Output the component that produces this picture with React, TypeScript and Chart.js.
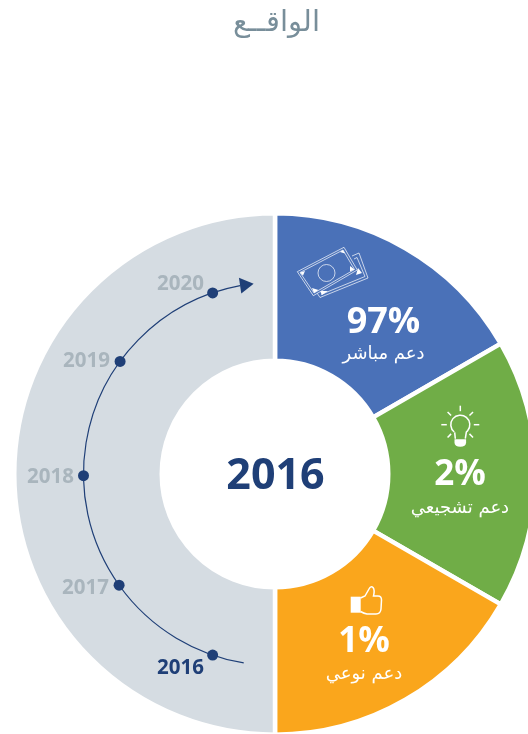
import React, { useEffect, useRef } from "react";
import { Chart, registerables } from "chart.js";

Chart.register(...registerables);

const titleText = "الواقــع";
const centerYear = "2016";
const sliceLabels = ["دعم مباشر", "دعم تشجيعي", "دعم نوعي", ""];
const sliceSizes = [60, 60, 60, 180];
const sharePercents = ["97%", "2%", "1%", ""];
const sliceColors = ["#4a71b8", "#70ad47", "#faa61c", "#d5dce2"];
const timelineYears = ["2016", "2017", "2018", "2019", "2020"];
const timelineAngles = [-71, -35.5, -0.5, 36, 71];

const NAVY = "#1f3f77";
const MUTED = "#a9b5bd";
const ARABIC = "'DejaVu Sans', sans-serif";
const LATIN = "'Open Sans', sans-serif";

const yearLabelAnchors = [
  [204, 674],
  [109, 594],
  [74, 483],
  [110, 367],
  [204, 290],
];
const shareAnchors = [
  [383.5, 333, 359],
  [460, 485, 513],
  [364, 652, 679],
];

function polygon(ctx: CanvasRenderingContext2D, pts: number[][]) {
  ctx.beginPath();
  pts.forEach(([x, y], i) => (i ? ctx.lineTo(x, y) : ctx.moveTo(x, y)));
  ctx.closePath();
}

function drawMoney(ctx: CanvasRenderingContext2D) {
  ctx.save();
  ctx.strokeStyle = "#fff";
  ctx.fillStyle = "#fff";
  ctx.lineWidth = 0.7;
  // rear note
  ctx.beginPath();
  ctx.moveTo(352, 256);
  ctx.lineTo(359, 253);
  ctx.lineTo(368, 278);
  ctx.lineTo(320, 297.5);
  ctx.lineTo(317, 293);
  ctx.stroke();
  ctx.beginPath();
  ctx.moveTo(354, 259);
  ctx.lineTo(357, 257.5);
  ctx.lineTo(365, 276.5);
  ctx.lineTo(321, 294.5);
  ctx.stroke();
  polygon(ctx, [[362, 273], [358, 268], [356, 275]]);
  ctx.fill();
  polygon(ctx, [[320, 291], [328, 291], [322, 295]]);
  ctx.fill();
  // front note
  ctx.fillStyle = "#4a71b8";
  polygon(ctx, [[297.3, 271.7], [344, 247.3], [357.3, 270], [313.3, 295.7]]);
  ctx.fill();
  ctx.stroke();
  polygon(ctx, [[300, 272.5], [343, 250], [354.5, 269.5], [314, 293]]);
  ctx.stroke();
  ctx.fillStyle = "#fff";
  polygon(ctx, [[300, 272.5], [305, 271], [303, 275.5]]);
  ctx.fill();
  polygon(ctx, [[343, 250], [340, 252], [345, 253.5]]);
  ctx.fill();
  polygon(ctx, [[354.5, 269.5], [350, 266], [350, 271.5]]);
  ctx.fill();
  polygon(ctx, [[314, 293], [312, 288], [318.5, 290]]);
  ctx.fill();
  ctx.beginPath();
  ctx.arc(326.5, 273, 8.5, 0, Math.PI * 2);
  ctx.stroke();
  ctx.restore();
}

function drawBulb(ctx: CanvasRenderingContext2D) {
  const cx = 460.3;
  const cy = 424.7;
  ctx.save();
  ctx.strokeStyle = "#fff";
  ctx.fillStyle = "#fff";
  ctx.lineWidth = 1.5;
  [0, 45, 90, 135, 225, 270, 315].forEach((deg) => {
    const a = (deg * Math.PI) / 180;
    const r0 = deg % 90 ? 13 : 13.5;
    const r1 = deg % 90 ? 18 : 19;
    ctx.beginPath();
    ctx.moveTo(cx + Math.sin(a) * r0, cy - Math.cos(a) * r0);
    ctx.lineTo(cx + Math.sin(a) * r1, cy - Math.cos(a) * r1);
    ctx.stroke();
  });
  ctx.beginPath();
  ctx.arc(cx, cy, 9.5, Math.PI * 0.72, Math.PI * 0.28);
  ctx.lineTo(cx + 5, cy + 14);
  ctx.moveTo(cx - 5, cy + 14);
  ctx.lineTo(cx - 5.6, cy + 7.7);
  ctx.stroke();
  ctx.beginPath();
  ctx.moveTo(cx - 5.8, cy + 14.5);
  ctx.lineTo(cx + 5.8, cy + 14.5);
  ctx.lineTo(cx + 5.8, cy + 18);
  ctx.quadraticCurveTo(cx + 5.5, cy + 22, cx, cy + 22);
  ctx.quadraticCurveTo(cx - 5.5, cy + 22, cx - 5.8, cy + 18);
  ctx.closePath();
  ctx.fill();
  ctx.restore();
}

function drawThumb(ctx: CanvasRenderingContext2D) {
  ctx.save();
  ctx.strokeStyle = "#fff";
  ctx.fillStyle = "#fff";
  ctx.lineWidth = 1.5;
  ctx.fillRect(350.7, 596.7, 10, 16);
  ctx.beginPath();
  ctx.moveTo(360.5, 598);
  ctx.lineTo(365, 596);
  ctx.lineTo(369, 589);
  ctx.quadraticCurveTo(371, 585.5, 373, 587.5);
  ctx.quadraticCurveTo(375, 590, 373.5, 596);
  ctx.lineTo(378, 596);
  ctx.quadraticCurveTo(381.5, 596, 381.5, 600);
  ctx.lineTo(381, 609);
  ctx.quadraticCurveTo(380.5, 614, 376, 614);
  ctx.lineTo(367, 614);
  ctx.quadraticCurveTo(364, 613.5, 360.5, 611.5);
  ctx.stroke();
  ctx.restore();
}

const overlay = {
  id: "overlay",
  afterDatasetsDraw(chart: any) {
    const ctx: CanvasRenderingContext2D = chart.ctx;
    const arc = chart.getDatasetMeta(0).data[0];
    const cx = arc.x;
    const cy = arc.y;
    const radius = 191.5;
    // angle measured from the west, positive going clockwise on screen
    const toPoint = (deg: number) => {
      const a = (deg * Math.PI) / 180;
      return [cx - Math.cos(a) * radius, cy - Math.sin(a) * radius];
    };
    const toCanvas = (deg: number) => Math.PI + (deg * Math.PI) / 180;

    ctx.save();
    // title
    ctx.fillStyle = "#788e9a";
    ctx.font = `200 29px ${ARABIC}`;
    ctx.textAlign = "center";
    ctx.textBaseline = "alphabetic";
    ctx.direction = "rtl";
    ctx.fillText(titleText, 276, 31);

    // slice texts
    shareAnchors.forEach(([x, y1, y2], i) => {
      ctx.fillStyle = "#fff";
      ctx.direction = "ltr";
      ctx.font = `700 ${i === 0 ? 36 : 35}px ${LATIN}`;
      ctx.fillText(sharePercents[i], x, y1);
      ctx.direction = "rtl";
      ctx.font = `400 18px ${ARABIC}`;
      ctx.fillText(sliceLabels[i], x, y2);
    });
    ctx.direction = "ltr";

    // center year
    ctx.fillStyle = NAVY;
    ctx.font = `700 43px ${LATIN}`;
    ctx.fillText(centerYear, cx + 0.5, 489);

    // timeline
    ctx.strokeStyle = NAVY;
    ctx.lineWidth = 1.2;
    ctx.beginPath();
    ctx.arc(cx, cy, radius, toCanvas(-80.6), toCanvas(79.5));
    ctx.stroke();
    const tip = toPoint(83.6);
    const base = toPoint(79.5);
    const dx = tip[0] - base[0];
    const dy = tip[1] - base[1];
    const len = Math.hypot(dx, dy);
    polygon(ctx, [
      tip,
      [base[0] - (dy / len) * 8, base[1] + (dx / len) * 8],
      [base[0] + (dy / len) * 8, base[1] - (dx / len) * 8],
    ]);
    ctx.fillStyle = NAVY;
    ctx.fill();

    ctx.textAlign = "right";
    ctx.font = `700 20.5px ${LATIN}`;
    timelineYears.forEach((year, i) => {
      const [x, y] = toPoint(timelineAngles[i]);
      ctx.fillStyle = NAVY;
      ctx.beginPath();
      ctx.arc(x, y, 5.5, 0, Math.PI * 2);
      ctx.fill();
      ctx.fillStyle = year === centerYear ? NAVY : MUTED;
      ctx.fillText(year, yearLabelAnchors[i][0], yearLabelAnchors[i][1]);
    });
    ctx.restore();

    drawMoney(ctx);
    drawBulb(ctx);
    drawThumb(ctx);
  },
};

export default function App() {
  const ref = useRef<HTMLCanvasElement>(null);
  useEffect(() => {
    const chart = new Chart(ref.current!, {
      type: "doughnut",
      data: {
        labels: sliceLabels,
        datasets: [
          {
            data: sliceSizes,
            backgroundColor: sliceColors,
            borderColor: "#ffffff",
            borderWidth: 4.5,
            borderAlign: "center",
          },
        ],
      },
      options: {
        animation: false,
        responsive: false,
        radius: 260.75,
        cutout: "43.43%",
        layout: { padding: { top: 215, bottom: 1, left: 0, right: 0 } },
        plugins: { legend: { display: false }, tooltip: { enabled: false } },
      },
      plugins: [overlay],
    } as any);
    return () => chart.destroy();
  }, []);
  return (
    <div style={{ position: "fixed", left: 0, top: 0, width: 528, height: 734, overflow: "hidden" }}>
      <canvas ref={ref} width={550} height={734} style={{ display: "block" }} />
    </div>
  );
}
